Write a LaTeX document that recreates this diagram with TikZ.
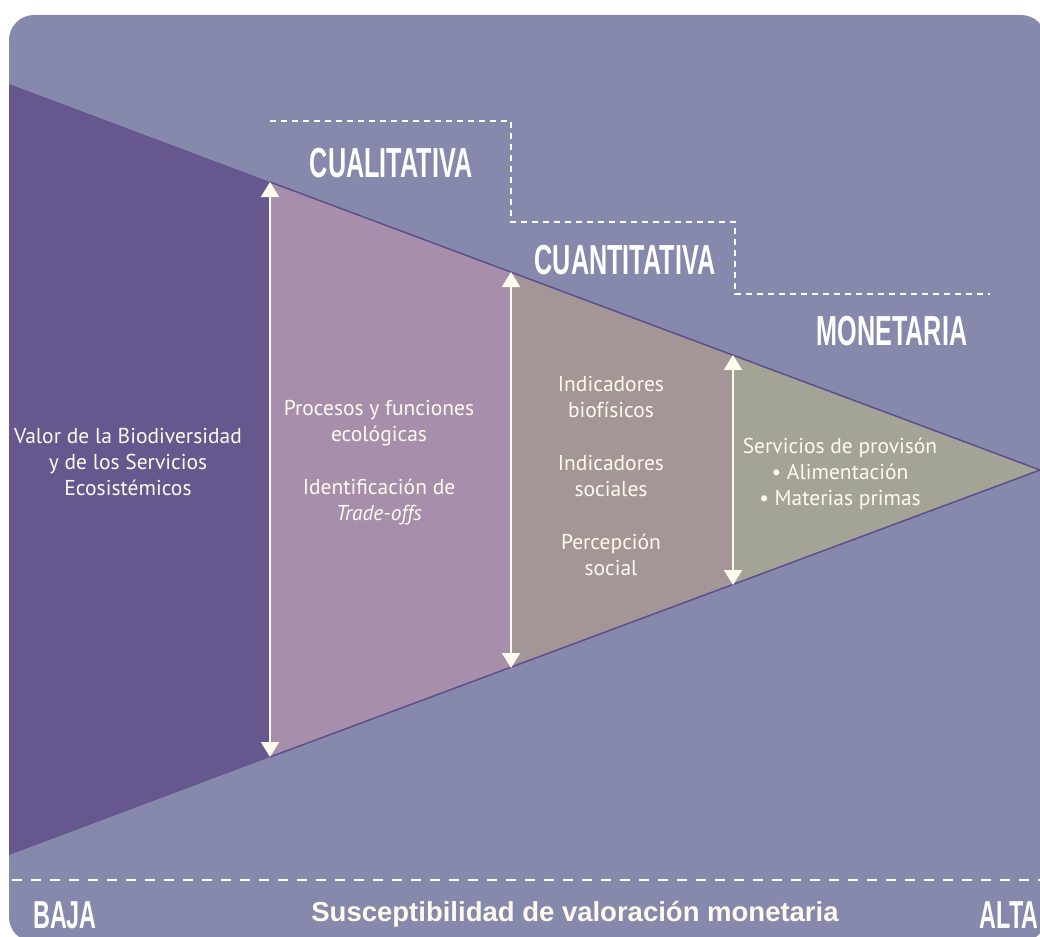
\documentclass[tikz,border=0pt]{standalone}
\usepackage{fontspec}
\setmainfont{PT Sans}
\newfontfamily\headfont[FakeStretch=0.6]{Liberation Sans}
\newfontfamily\axisfont{Liberation Sans}
\usetikzlibrary{positioning,arrows.meta}

\definecolor{bgcol}{HTML}{8689AB}
\definecolor{darkcol}{HTML}{66578F}
\definecolor{pinkcol}{HTML}{A78FAC}
\definecolor{mauvecol}{HTML}{A49596}
\definecolor{olivecol}{HTML}{A4A496}
\definecolor{edgecol}{HTML}{5E4E8C}
\definecolor{cream}{HTML}{FFFAEE}

\begin{document}
\begin{tikzpicture}[x=1pt, y=-1pt, >={Triangle[width=18pt,length=15pt]}, thick]
    % Styles
    \tikzstyle{bodytext}=[text=cream, align=center, font=\fontsize{21.5}{26}\selectfont]
    \tikzstyle{headtext}=[text=white, inner sep=0pt, font=\headfont\bfseries\fontsize{42}{42}\selectfont]
    \tikzstyle{scalearrow}=[<->, draw=cream, line width=2pt]
    \tikzstyle{stepline}=[draw=white, line width=1.5pt, dash pattern=on 6pt off 5pt]

    \useasboundingbox (0,0) rectangle (1040,936);
    \fill[bgcol, rounded corners=25pt] (9,15) rectangle (1046,942);

    % Triangle corners
    \coordinate (topleft) at (9,84);
    \coordinate (botleft) at (9,855);
    \coordinate (apex) at (1040,470);
    \coordinate (qualtop) at (270,182);
    \coordinate (qualbot) at (270,757);
    \coordinate (quantop) at (511,272);
    \coordinate (quanbot) at (511,668);
    \coordinate (montop) at (733,355);
    \coordinate (monbot) at (733,585);

    % Bands
    \fill[darkcol] (topleft) -- (qualtop) -- (qualbot) -- (botleft) -- cycle;
    \fill[pinkcol] (qualtop) -- (quantop) -- (quanbot) -- (qualbot) -- cycle;
    \fill[mauvecol] (quantop) -- (montop) -- (monbot) -- (quanbot) -- cycle;
    \fill[olivecol] (montop) -- (apex) -- (monbot) -- cycle;
    \draw[edgecol, line width=1.5pt] (qualtop) -- (apex) -- (qualbot);

    % Step line
    \draw[stepline] (270,121) -- (511,121) -- (511,222) -- (735,222) -- (735,294) -- (990,294);

    % Headings
    \node (cual) [headtext] at (391,163) {CUALITATIVA};
    \node (cuan) [headtext] at (625,260) {CUANTITATIVA};
    \node (mone) [headtext] at (892,331) {MONETARIA};

    % Arrows
    \draw[scalearrow] (qualbot) -- (qualtop);
    \draw[scalearrow] (quanbot) -- (quantop);
    \draw[scalearrow] (monbot) -- (montop);

    % Texts
    \node (valor) [bodytext] at (128,462) {Valor de la Biodiversidad\\ y de los Servicios\\ Ecosistémicos};
    \node (procesos) [bodytext] at (379,463) {Procesos y funciones\\ ecológicas\\[27pt] Identificación de\\ \textit{Trade-offs}};
    \node (indic) [bodytext] at (611,476) {Indicadores\\ biofísicos\\[27pt] Indicadores\\ sociales\\[27pt] Percepción\\ social};
    \node (servic) [bodytext] at (840,474) {Servicios de provisón\\ \textbullet\ Alimentación\\ \textbullet\ Materias primas};

    % Bottom scale
    \draw[white, line width=1.5pt, dash pattern=on 10pt off 9pt] (12,880) -- (1040,880);
    \node (baja) [headtext, font=\headfont\bfseries\fontsize{39}{39}\selectfont] at (65,915) {BAJA};
    \node (alta) [headtext, anchor=east, font=\headfont\bfseries\fontsize{39}{39}\selectfont] at (1039,915) {ALTA};
    \node (susc) [text=cream, font=\axisfont\bfseries\fontsize{27.5}{27.5}\selectfont] at (575,914) {Susceptibilidad de valoración monetaria};
\end{tikzpicture}
\end{document}
